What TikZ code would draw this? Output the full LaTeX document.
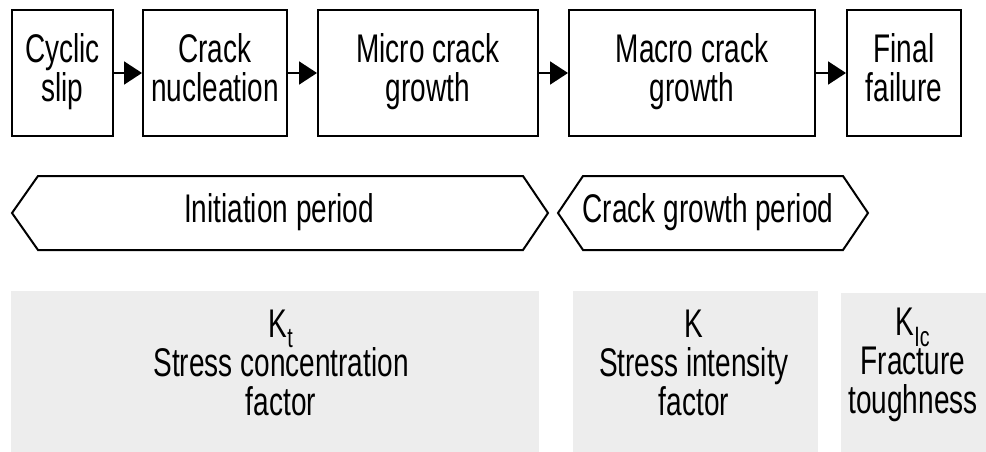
\documentclass[tikz,border=0pt]{standalone}
\usepackage{fontspec}
\setmainfont{Liberation Sans}[FakeStretch=0.70]
\usetikzlibrary{arrows.meta}
\definecolor{panelgrey}{HTML}{EDEDED}
\begin{document}
\begin{tikzpicture}[x=1pt,y=-1pt,
  txt/.style={font=\fontsize{40}{39}\selectfont, align=center, inner sep=0pt,
    execute at begin node={\strut}, execute at end node={\strut}},
  stage/.style={txt, draw, line width=2pt, minimum height=126},
  flow/.style={line width=2pt, -{Triangle[length=18pt,width=23pt]}},
  period/.style={line width=2pt, line join=miter},
  panel/.style={fill=panelgrey, draw=none, anchor=north west, inner sep=0pt}]
\useasboundingbox[fill=white] (0,0) rectangle (986,452);

% fatigue stages
\node[stage, minimum width=101] (slip)  at (62.5,73) {Cyclic\\slip};
\node[stage, minimum width=144] (nucl)  at (215,73)  {Crack\\nucleation};
\node[stage, minimum width=220] (micro) at (428,73)  {Micro crack\\growth};
\node[stage, minimum width=246] (macro) at (692,73)  {Macro crack\\growth};
\node[stage, minimum width=114] (fail)  at (904,73)  {Final\\failure};

\draw[flow] (slip) -- (nucl);
\draw[flow] (nucl) -- (micro);
\draw[flow] (micro) -- (macro);
\draw[flow] (macro) -- (fail);

% periods
\draw[period] (12,213) -- (38,176) -- (523,176) -- (548,213) -- (523,250) -- (38,250) -- cycle;
\node[txt] (init) at (279,213.5) {Initiation period};
\draw[period] (558,213) -- (583,176) -- (843,176) -- (868,213) -- (843,250) -- (583,250) -- cycle;
\node[txt] (growth) at (708,213.5) {Crack growth period};

% governing parameters
\node[panel, minimum width=528, minimum height=161] (ktpanel)  at (11,291)  {};
\node[panel, minimum width=245, minimum height=161] (kpanel)   at (573,291) {};
\node[panel, minimum width=145, minimum height=159] (kicpanel) at (841,293) {};

\node[txt] (kt)  at (281,369) {K\textsubscript{t}\\Stress concentration\\factor};
\node[txt] (k)   at (694,369) {K\\Stress intensity\\factor};
\node[txt] (kic) at (913,367) {K\textsubscript{Ic}\\Fracture\\toughness};
\end{tikzpicture}
\end{document}
